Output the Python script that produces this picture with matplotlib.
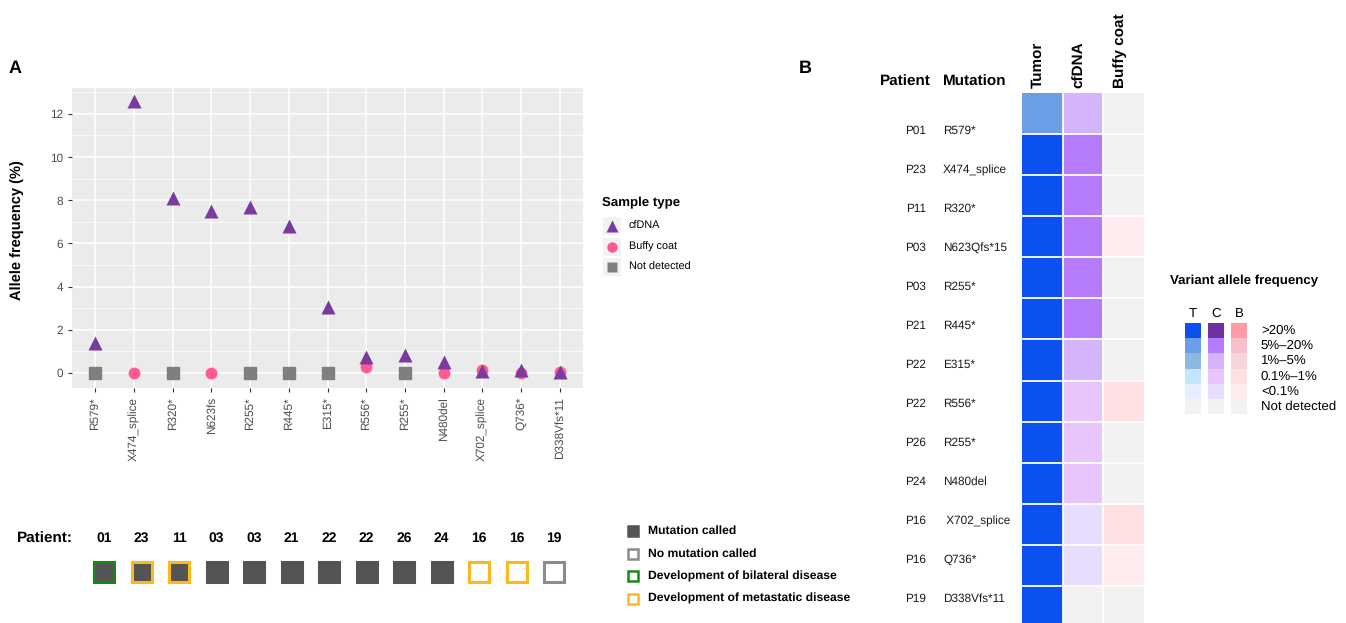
import numpy as np
import matplotlib.pyplot as plt
from matplotlib.colors import to_rgb

plt.rcParams['font.family'] = ['Liberation Sans', 'DejaVu Sans']
plt.rcParams['text.hinting'] = 'no_hinting'

# ---- panel A data ----
mutations_a = ['R579*', 'X474_splice', 'R320*', 'N623fs', 'R255*', 'R445*', 'E315*',
               'R556*', 'R255*', 'N480del', 'X702_splice', 'Q736*', 'D338Vfs*11']
cfdna_af = [1.4, 12.6, 8.1, 7.5, 7.7, 6.8, 3.05, 0.75, 0.85, 0.5, 0.1, 0.12, 0.05]
buffy_af = [np.nan, 0.0, np.nan, 0.0, np.nan, np.nan, np.nan, 0.25, np.nan, 0.0, 0.15, 0.0, 0.02]
not_detected_af = [0, np.nan, 0, np.nan, 0, 0, 0, np.nan, 0, np.nan, np.nan, np.nan, np.nan]

patients_a = ['01', '23', '11', '03', '03', '21', '22', '22', '26', '24', '16', '16', '19']
mutation_called = [True] * 10 + [False] * 3
disease_dev = ['bilateral', 'metastatic', 'metastatic', None, None, None, None, None, None, None,
               'metastatic', 'metastatic', None]

# ---- panel B data ----
patients_b = ['P01', 'P23', 'P11', 'P03', 'P03', 'P21', 'P22', 'P22', 'P26', 'P24', 'P16', 'P16', 'P19']
mutations_b = ['R579*', 'X474_splice', 'R320*', 'N623Qfs*15', 'R255*', 'R445*', 'E315*',
               'R556*', 'R255*', 'N480del', ' X702_splice', 'Q736*', 'D338Vfs*11']
sample_cols = ['Tumor', 'cfDNA', 'Buffy coat']
# level index: 0 >20%, 1 5-20%, 2 1-5%, 3 0.1-1%, 4 <0.1%, 5 not detected
tumor_level = [1, 0, 0, 0, 0, 0, 0, 0, 0, 0, 0, 0, 0]
cfdna_level = [2, 1, 1, 1, 1, 1, 2, 3, 3, 3, 4, 4, 5]
buffy_level = [5, 5, 5, 4, 5, 5, 5, 3, 5, 5, 3, 4, 5]
vaf_labels = ['>20%', '5%–20%', '1%–5%', '0.1%–1%', '<0.1%', 'Not detected']
tumor_pal = ['#0B50F0', '#6A9FE8', '#8DB8E0', '#C5E5FC', '#E4EEFC', '#F2F2F2']
cfdna_pal = ['#7030A0', '#B47BFC', '#D4B5FC', '#E8C5FC', '#E6DEFC', '#F2F2F2']
buffy_pal = ['#FF9AA8', '#F8C0CC', '#F5D5DC', '#FFE0E3', '#FFECEE', '#F2F2F2']

W, H = 1346, 623
fig = plt.figure(figsize=(W / 100, H / 100), dpi=100)


def px_axes(l, t, r, b):
    return fig.add_axes([l / W, 1 - b / H, (r - l) / W, (b - t) / H])


# overlay for free text and legends
ov = px_axes(0, 0, W, H)
ov.set_xlim(0, W)
ov.set_ylim(H, 0)
ov.axis('off')

PURPLE, PINK, GREY = '#7B3A9E', '#FF5A92', '#7F7F7F'
DARK, GREEN, ORANGE, EDGEGREY = '#545454', '#138A13', '#FFB81C', '#8C8C8C'

# ---- panel A scatter ----
ax = px_axes(72, 88, 583, 388)
x = np.arange(1, len(mutations_a) + 1)
ax.set_facecolor('#EBEBEB')
ax.plot(x, not_detected_af, 's', color=GREY, ms=8, zorder=3)
ax.plot(x, buffy_af, 'o', color=PINK, ms=8.5, mec='none', zorder=3)
ax.plot(x, cfdna_af, '^', color=PURPLE, ms=9.5, mec='none', zorder=4)
ax.set_xlim(0.4, len(x) + 0.6)
ax.set_ylim(-0.7, 13.2)
ax.set_yticks(range(0, 13, 2))
ax.set_yticks(range(1, 14, 2), minor=True)
ax.set_xticks(x)
ax.set_xticklabels(mutations_a, rotation=90, fontsize=8.5, color='#4D4D4D')
ax.tick_params(axis='y', labelsize=8.5, labelcolor='#4D4D4D')
ax.tick_params(which='major', color='#333333', length=3, width=0.8)
ax.tick_params(which='minor', length=0)
ax.grid(which='major', color='white', lw=1.1)
ax.grid(which='minor', axis='y', color='white', lw=0.55)
ax.set_axisbelow(True)
for s in ax.spines.values():
    s.set_visible(False)
ov.text(17, 230, 'Allele frequency (%)', rotation=90, fontsize=10.5, fontweight='bold',
        ha='center', va='center')

ov.text(9, 68, 'A', fontsize=13, fontweight='bold', va='center')

# sample type legend
ov.text(602, 203, 'Sample type', fontsize=9.5, fontweight='bold', va='center')
for yy, mk, col, ms, lab in [(226, '^', PURPLE, 8, 'cfDNA'), (247, 'o', PINK, 7.5, 'Buffy coat'),
                             (267, 's', GREY, 6.5, 'Not detected')]:
    ov.add_patch(plt.Rectangle((603, yy - 9), 18, 18, color='#F2F2F2', lw=0))
    ov.plot(612, yy, mk, color=col, ms=ms, mec='none')
    ov.text(629, yy, lab, fontsize=7.8, va='center')

# ---- patient row ----
axp = px_axes(85.25, 520, 572.75, 600)
axp.set_xlim(-0.5, len(patients_a) - 0.5)
axp.set_ylim(600, 520)
axp.axis('off')
edge_map = {'bilateral': GREEN, 'metastatic': ORANGE}
for i, (pid, called, dev) in enumerate(zip(patients_a, mutation_called, disease_dev)):
    axp.text(i, 538, pid, fontsize=10, fontweight='bold', ha='center', va='center')
    face = DARK if called else 'white'
    if dev is not None:
        edge = edge_map[dev]
    elif called:
        edge = DARK
    else:
        edge = EDGEGREY
    axp.plot(i, 572, 's', ms=14, mfc=face, mec=edge, mew=2.2)
ov.text(17, 539, 'Patient:', fontsize=11, fontweight='bold', va='center')

# status legend
legend_rows = [(DARK, DARK, 'Mutation called'), ('white', EDGEGREY, 'No mutation called'),
               ('white', GREEN, 'Development of bilateral disease'),
               ('white', ORANGE, 'Development of metastatic disease')]
for k, (fc, ec, lab) in enumerate(legend_rows):
    yy = 531 + k * 22.5
    ov.plot(633, yy, 's', ms=7, mfc=fc, mec=ec, mew=1.8)
    ov.text(648, yy, lab, fontsize=8.7, fontweight='bold', va='center')

# ---- panel B heatmap ----
ov.text(799, 68, 'B', fontsize=13, fontweight='bold', va='center')
axh = px_axes(1022, 93, 1144, 627)
levels = np.array([tumor_level, cfdna_level, buffy_level]).T
pals = [tumor_pal, cfdna_pal, buffy_pal]
rgb = np.array([[to_rgb(pals[j][levels[i, j]]) for j in range(3)] for i in range(len(patients_b))])
axh.imshow(rgb, aspect='auto', interpolation='nearest')
for i in range(1, len(patients_b)):
    axh.axhline(i - 0.5, color='white', lw=1.3)
for j in range(1, 3):
    axh.axvline(j - 0.5, color='white', lw=1.3)
axh.axis('off')

# column headers
for j, name in enumerate(sample_cols):
    ov.text(1038 + j * 41, 88, name, rotation=90, fontsize=11, fontweight='bold',
            ha='center', va='bottom')
ov.text(905, 82, 'Patient', fontsize=11, fontweight='bold', ha='center', va='center')
ov.text(943, 82, 'Mutation', fontsize=11, fontweight='bold', ha='left', va='center')

# row labels (own spacing)
axl = px_axes(870, 111.5, 1015, 618.5)
axl.set_xlim(870, 1015)
axl.set_ylim(len(patients_b) - 0.5, -0.5)
axl.axis('off')
for i, (p, m) in enumerate(zip(patients_b, mutations_b)):
    axl.text(926, i, p, fontsize=8.5, ha='right', va='center', color='#1A1A1A')
    axl.text(943, i, m, fontsize=8.5, ha='left', va='center', color='#1A1A1A')

# VAF legend
ov.text(1170, 281, 'Variant allele frequency', fontsize=9.5, fontweight='bold', va='center')
axv = px_axes(1181.5, 323, 1250.5, 414)
axv.set_xlim(-0.5, 2.5)
axv.set_ylim(len(vaf_labels) - 0.5, -0.5)
axv.axis('off')
for j, pal in enumerate(pals):
    axv.bar([j] * len(pal), 1, bottom=np.arange(len(pal)) - 0.5, width=0.66, color=pal, lw=0)
    axv.text(j, -0.75, 'TCB'[j], fontsize=9.5, ha='center', va='bottom')
for i, lab in enumerate(vaf_labels):
    axv.text(2.95, i, lab, fontsize=9.5, ha='left', va='center')

fig.savefig('out.png', dpi=100)
